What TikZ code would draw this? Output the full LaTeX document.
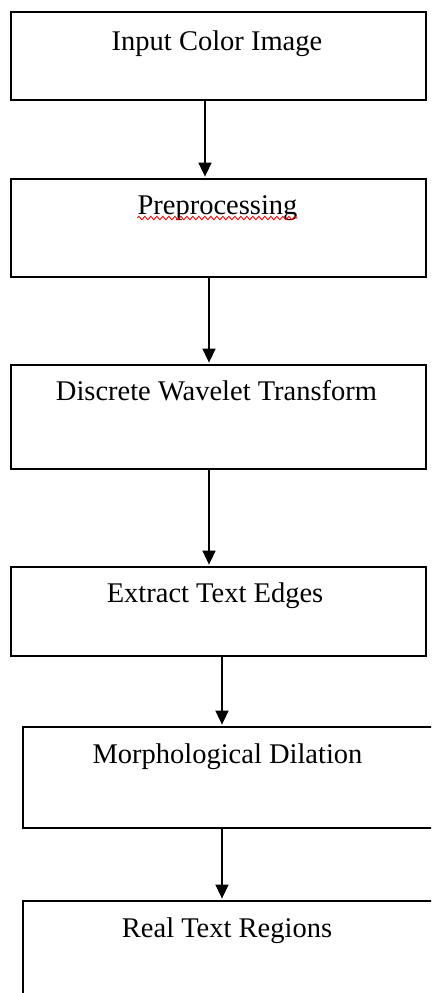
\documentclass[tikz,border=0pt]{standalone}
\usepackage{fontspec}
\setmainfont{Liberation Serif}
\usetikzlibrary{arrows.meta,decorations.pathmorphing}
\begin{document}
\begin{tikzpicture}[x=1pt,y=-1pt,
  box/.style={draw=black, line width=1.8pt, fill=white, inner sep=0pt},
  lbl/.style={font=\fontsize{28.5}{30}\selectfont, anchor=base, inner sep=0pt},
  arr/.style={line width=1.6pt, -{Triangle[length=14pt,width=13pt]}, shorten >=1.5pt},
  squig/.style={draw=red, line width=0.9pt, decorate,
    decoration={zigzag, segment length=6pt, amplitude=1.6pt}}]
\useasboundingbox (0,0) rectangle (431,993);
\clip (0,0) rectangle (431,993);
\fill[white] (0,0) rectangle (431,993);
% boxes
\node[box, minimum width=415pt, minimum height=88pt]  (b1) at (218.5,56) {};
\node[box, minimum width=415pt, minimum height=98pt]  (b2) at (218.5,228) {};
\node[box, minimum width=415pt, minimum height=104pt] (b3) at (218.5,417) {};
\node[box, minimum width=415pt, minimum height=89pt]  (b4) at (218.5,611.5) {};
\node[box, minimum width=422pt, minimum height=101pt] (b5) at (234,777.5) {};
\node[box, minimum width=422pt, minimum height=109pt] (b6) at (234,955.5) {};
% labels
\node[lbl] (t1) at (217,50) {Input Color Image};
\node[lbl] (t2) at (217.5,214) {Preprocessing};
\node[lbl] (t3) at (216.5,400) {Discrete Wavelet Transform};
\node[lbl] (t4) at (215,602) {Extract Text Edges};
\node[lbl] (t5) at (227.5,763) {Morphological Dilation};
\node[lbl] (t6) at (227,937) {Real Text Regions};
% spell-check underline
\draw[squig] ([yshift=-4pt]t2.base west) -- ([yshift=-4pt]t2.base east);
% arrows
\draw[arr] (b1.south -| 205,0) -- (b2.north -| 205,0);
\draw[arr] (b2.south -| 209,0) -- (b3.north -| 209,0);
\draw[arr] (b3.south -| 209,0) -- (b4.north -| 209,0);
\draw[arr] (b4.south -| 222,0) -- (b5.north -| 222,0);
\draw[arr] (b5.south -| 222,0) -- (b6.north -| 222,0);
\end{tikzpicture}
\end{document}
